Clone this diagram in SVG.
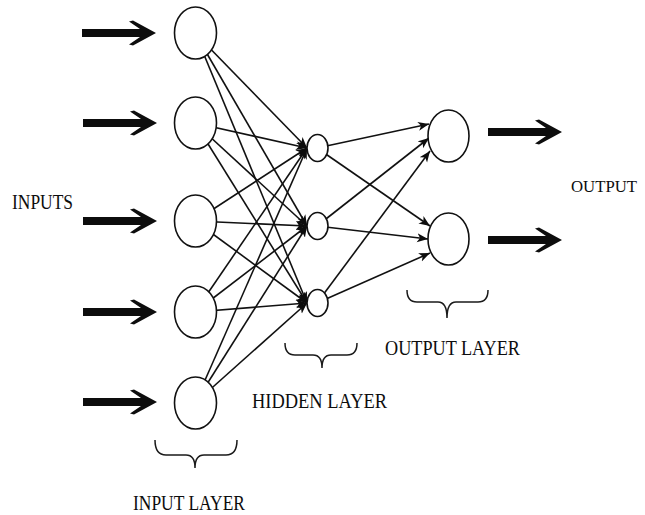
<svg xmlns="http://www.w3.org/2000/svg" width="645" height="515" viewBox="0 0 645 515">
  <style>
    .edge { stroke: #111; stroke-width: 1.6; fill: none; }
    .node { fill: #ffffff; stroke: #111; stroke-width: 1.6; }
    .brace { fill: none; stroke: #1a1a1a; stroke-width: 1.5; }
    .big { fill: #0d0d0d; }
    .lbl { font-family: "Liberation Serif", "Times New Roman", serif; font-size: 20px; fill: #0d0d0d; }
  </style>
  <defs>
    <marker id="head" markerUnits="userSpaceOnUse" markerWidth="12" markerHeight="10" refX="11" refY="4.5" orient="auto">
      <path d="M0,0 L11,4.5 L0,9 L3,4.5 Z" fill="#0d0d0d"/>
    </marker>
    <!-- thick block arrow, tip at origin -->
    <path id="fat" d="M-74,-4 L-16,-4 L-27,-11.5 L-23,-12.5 L0,0 L-23,12.5 L-27,11.5 L-16,4 L-74,4 Z"/>
  </defs>
  <rect width="645" height="515" fill="#ffffff"/>

  <!-- feed arrows into the input layer and out of the output layer -->
  <g id="io-arrows" class="big">
    <use href="#fat" x="156" y="33"/>
    <use href="#fat" x="157" y="123"/>
    <use href="#fat" x="157" y="221"/>
    <use href="#fat" x="157" y="312"/>
    <use href="#fat" x="157" y="402"/>
    <use href="#fat" x="562" y="132"/>
    <use href="#fat" x="562" y="240"/>
  </g>

  <g id="connectors" marker-end="url(#head)">
    <!-- input -> hidden -->
    <line class="edge" x1="195" y1="33" x2="307" y2="148"/>
    <line class="edge" x1="195" y1="33" x2="307" y2="226"/>
    <line class="edge" x1="195" y1="33" x2="307" y2="303"/>
    <line class="edge" x1="195" y1="123" x2="307" y2="148"/>
    <line class="edge" x1="195" y1="123" x2="307" y2="226"/>
    <line class="edge" x1="195" y1="123" x2="307" y2="303"/>
    <line class="edge" x1="195" y1="221" x2="307" y2="148"/>
    <line class="edge" x1="195" y1="221" x2="307" y2="226"/>
    <line class="edge" x1="195" y1="221" x2="307" y2="303"/>
    <line class="edge" x1="195" y1="312" x2="307" y2="148"/>
    <line class="edge" x1="195" y1="312" x2="307" y2="226"/>
    <line class="edge" x1="195" y1="312" x2="307" y2="303"/>
    <line class="edge" x1="195" y1="403" x2="307" y2="148"/>
    <line class="edge" x1="195" y1="403" x2="307" y2="226"/>
    <line class="edge" x1="195" y1="403" x2="307" y2="303"/>
    <!-- hidden -> output -->
    <line class="edge" x1="317" y1="148" x2="429" y2="124"/>
    <line class="edge" x1="317" y1="148" x2="430" y2="226"/>
    <line class="edge" x1="317" y1="226" x2="429" y2="138"/>
    <line class="edge" x1="317" y1="226" x2="428" y2="239"/>
    <line class="edge" x1="317" y1="303" x2="430" y2="151"/>
    <line class="edge" x1="317" y1="303" x2="430" y2="253"/>
  </g>

  <g id="in1"><ellipse class="node" cx="195.5" cy="33" rx="21" ry="26"/></g>
  <g id="in2"><ellipse class="node" cx="195.5" cy="123" rx="21" ry="26"/></g>
  <g id="in3"><ellipse class="node" cx="195.5" cy="221" rx="21" ry="26"/></g>
  <g id="in4"><ellipse class="node" cx="195.5" cy="312" rx="21" ry="26"/></g>
  <g id="in5"><ellipse class="node" cx="195.5" cy="403" rx="21" ry="26"/></g>

  <g id="hid1"><ellipse class="node" cx="317.5" cy="148" rx="10.5" ry="13.5"/></g>
  <g id="hid2"><ellipse class="node" cx="317.5" cy="226" rx="10.5" ry="13.5"/></g>
  <g id="hid3"><ellipse class="node" cx="317.5" cy="303" rx="10.5" ry="13.5"/></g>

  <g id="out1"><ellipse class="node" cx="448.5" cy="136" rx="20.5" ry="26"/></g>
  <g id="out2"><ellipse class="node" cx="448.5" cy="239" rx="20.5" ry="26"/></g>

  <!-- layer braces -->
  <g id="braces">
    <path class="brace" d="M155,440 Q155,455 166,455 L186,455 Q195,455 195,468 Q195,455 204,455 L226,455 Q237,455 237,440"/>
    <path class="brace" d="M285,343 Q285,355 295,355 L313,355 Q322,355 322,368 Q322,355 331,355 L347,355 Q357,355 357,343"/>
    <path class="brace" d="M407,290 Q407,302 417,302 L438,302 Q447,302 447,318 Q447,302 456,302 L478,302 Q488,302 488,290"/>
  </g>

  <g id="labels">
    <text class="lbl" x="12" y="209" textLength="61" lengthAdjust="spacingAndGlyphs">INPUTS</text>
    <text class="lbl" x="571" y="192" style="font-size:17.5px" textLength="66" lengthAdjust="spacingAndGlyphs">OUTPUT</text>
    <text class="lbl" x="385" y="355" textLength="135" lengthAdjust="spacingAndGlyphs">OUTPUT LAYER</text>
    <text class="lbl" x="252" y="408" textLength="135" lengthAdjust="spacingAndGlyphs">HIDDEN LAYER</text>
    <text class="lbl" x="133" y="510" textLength="112" lengthAdjust="spacingAndGlyphs">INPUT LAYER</text>
  </g>
</svg>
